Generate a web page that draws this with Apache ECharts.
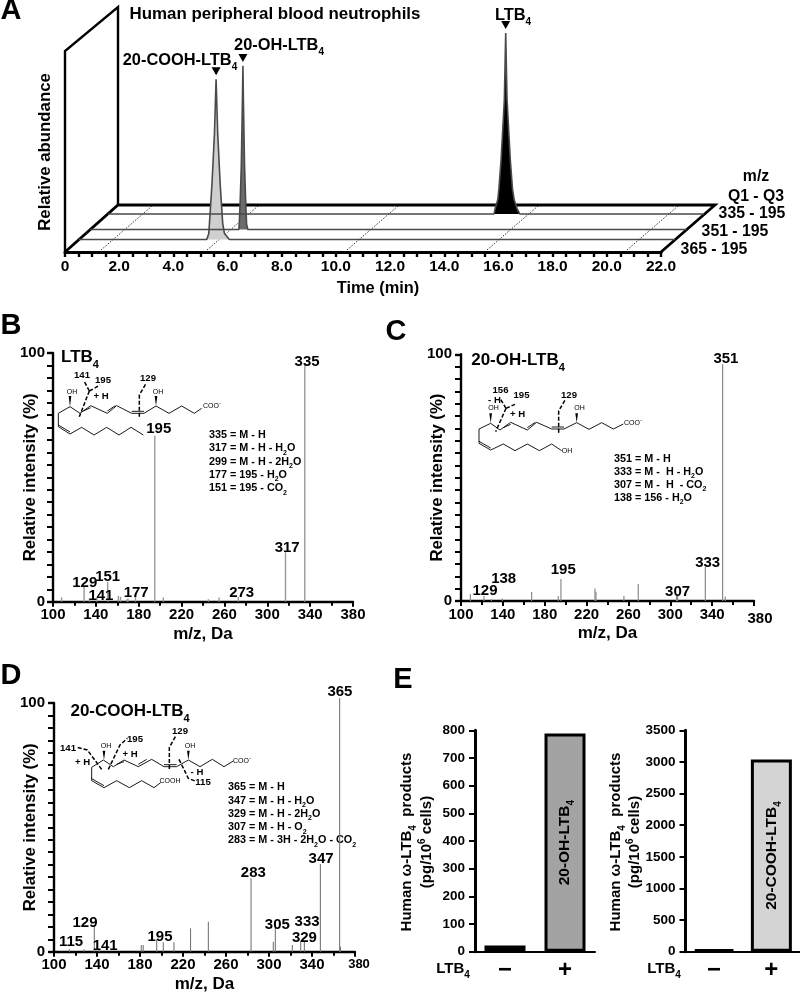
<!DOCTYPE html>
<html><head><meta charset="utf-8">
<script src="https://cdn.jsdelivr.net/npm/echarts@6/dist/echarts.min.js"></script>
<style>html,body{margin:0;padding:0;background:#fff}#c{width:800px;height:994px}</style></head>
<body><div id="c"></div>
<script>
// ---------- data ----------
const timeTicks = [0,2,4,6,8,10,12,14,16,18,20,22];
const transitions = ['335 - 195','351 - 195','365 - 195'];
const ltb4Time = [0,14.25,14.29,14.39,14.43,14.51,14.63,14.68,14.73,14.85,14.93,14.99,15.10,15.20,22];
const ltb4Abund = [0,0,3,8,14,30,63,100,63,30,14,8,3,0,0];
const ohTime = [0,5.48,5.495,5.53,5.57,5.61,5.63,5.65,5.69,5.73,5.765,5.81,22];
const ohAbund = [0,0,3,16,35,70,90.4,70,35,16,3,0,0];
const cooTime = [0,4.715,4.79,4.815,4.91,5.0,5.06,5.12,5.21,5.305,5.37,5.55,22];
const cooAbund = [0,0,3.3,8.8,31,58.6,88.5,58.6,31,8.8,3.3,0,0];

const bMz = [108,129,134,141,151,161,163,169,170,177,195,203,245,255,273,317,335];
const bInt = [1.7,6,1.3,2,8,2.3,2,1,1.3,2.3,66.7,1.7,1,1.7,2,19.9,95.3];
const bLabels = [129,141,151,177,195,273,317,335];

const cMz = [109,122,129,139.5,167.5,193,195.5,228,229,255.7,269.4,306,307,333.5,350,352.5];
const cInt = [2.8,2,0.7,1,3.6,2,8.9,5.1,3.8,2,6.9,2,2,13.9,96,1.8];
const cLabels = {122:129,129:138,195.5:195,306:307,333.5:333,350:351};

const dMz = [114.3,128,137.5,142,181.2,183,195.5,201.7,211.6,227,243.6,283.3,304,305.9,321.7,329.5,332.9,347.8,365.7,366.5];
const dInt = [1,1,10.7,1,2.7,2.7,4.7,3.8,3.8,9.4,12,29.5,4,11.4,2.7,4.4,4,35.3,102,2];
const dLabels = {114.3:115,137.5:129,142:141,195.5:195,283.3:283,305.9:305,329.5:329,332.9:333,347.8:347,365.7:365};

const bFragments = ['335 = M - H','317 = M - H - H_2_O','299 = M - H - 2H_2_O','177 = 195 - H_2_O','151 = 195 - CO_2_'];
const cFragments = ['351 = M - H','333 = M -  H - H_2_O','307 = M -  H  - CO_2_','138 = 156 - H_2_O'];
const dFragments = ['365 = M - H','347 = M - H - H_2_O','329 = M - H - 2H_2_O','307 = M - H - O_2_','283 = M - 3H - 2H_2_O - CO_2_'];

const barGroups = ['−','+'];
const ohBars = [22,788];
const cooBars = [35,3040];

// ---------- layout / style ----------
const F = '"Liberation Sans", Arial, sans-serif';
function mk(s){
  return s.split(/(_[^_]+_|\^[^^]+\^)/).filter(x=>x!=='').map(x=>{
    if(x[0]==='_') return '{s|'+x.slice(1,-1)+'}';
    if(x[0]==='^') return '{u|'+x.slice(1,-1)+'}';
    return '{a|'+x+'}';
  }).join('');
}
function rich(size,color){
  const c=color||'#000', ss=Math.round(size*.64), lh=Math.round(size*1.5);
  const base={fontWeight:'bold',fontFamily:F,fill:c,color:c};
  return {
    a:Object.assign({fontSize:size,lineHeight:lh},base),
    s:Object.assign({fontSize:ss,lineHeight:ss,verticalAlign:'bottom'},base),
    u:Object.assign({fontSize:ss,lineHeight:ss,verticalAlign:'top',padding:[2,0,0,0]},base)
  };
}
const G=[];
function T(x,y,str,size,o){
  o=o||{};
  G.push({type:'text',x,y,rotation:o.rot||0,silent:true,style:{text:mk(str),rich:rich(size),
    align:o.align||'center',verticalAlign:'middle',font:'bold '+size+'px '+F,fill:'#000'}});
}
function plain(x,y,str,size,o){
  o=o||{};
  G.push({type:'text',x,y,silent:true,style:{text:str,align:o.align||'center',verticalAlign:'middle',
    font:(o.weight||'bold')+' '+size+'px '+F,fill:o.fill||'#000'}});
}
function L(pts,w,o){
  o=o||{};
  G.push({type:'polyline',silent:true,shape:{points:pts},style:{stroke:o.c||'#000',lineWidth:w,fill:null,lineDash:o.dash||null,lineJoin:'miter'}});
}
const Z=(ox,oy,p)=>p.map(a=>[ox+a[0]/3,oy+a[1]/3]);
function wedge(ox,oy,x,y0,y1){
  G.push({type:'polygon',silent:true,shape:{points:Z(ox,oy,[[x,y0],[x-4,y1],[x+4,y1]])},style:{fill:'#000'}});
}

// Panel letters
[['A',11,11],['B',11,326],['C',396,332],['D',11,676],['E',403,680]].forEach(a=>plain(a[1],a[2],a[0],29));

// Panel A frame
L([[65,252],[65,51],[118,7],[118,205]],2.4);
L([[65,252],[118,205],[715,205],[661,252]],2.8);
[101,207,347,487,627].forEach(x=>L([[x,250],[x+51,206]],0.8,{dash:[1.5,1.5]}));
T(275,14,'Human peripheral blood neutrophils',16.9);
T(180,60,'20-COOH-LTB_4_',16.4);
T(279,45,'20-OH-LTB_4_',16.4);
T(513,15,'LTB_4_',16.4);
T(45,152,'Relative abundance',16.8,{rot:Math.PI/2});
plain(756,177,'m/z',15.8); plain(756,197,'Q1 - Q3',15.8);
plain(752,214,transitions[0],15.8); plain(735,232,transitions[1],15.8); plain(714,250,transitions[2],15.8);

// Spectra text
T(80,357,'LTB_4_',17);
T(518,360,'20-OH-LTB_4_',17);
T(130,711,'20-COOH-LTB_4_',17);
bFragments.forEach((t,i)=>T(209,435+i*13.35,t,10.8,{align:'left'}));
cFragments.forEach((t,i)=>T(614,459+i*13,t,10.8,{align:'left'}));
dFragments.forEach((t,i)=>T(228,787.3+i*13.3,t,10.8,{align:'left'}));

// Molecule sketches
function chain(ox,oy,pts,tail,db){
  L(Z(ox,oy,pts),0.9); L(Z(ox,oy,tail),0.9);
  db.forEach(s=>L(Z(ox,oy,s),0.9));
}
const D={dash:[4,2]};
// B
chain(0,310,
 [[175,310],[210,290],[240,310],[272,287],[322,310],[350,287],[395,310],[432,310],[468,288],[507,310],[545,288],[583,310],[605,295]],
 [[175,310],[175,350],[210,372],[245,352],[282,375],[320,352],[357,375],[393,352],[430,375]],
 [[[250,303],[272,293]],[[322,303],[346,287]],[[395,304],[432,304]],[[175,345],[210,366]]]);
wedge(0,310,210,290,258); wedge(0,310,468,288,258);
plain(72,392,'OH',7,{weight:'normal'}); plain(158,392,'OH',7,{weight:'normal'});
plain(212,406.5,'COO⁻',7,{weight:'normal'});
L(Z(0,310,[[268,243],[238,320]]),1.5,D); L(Z(0,310,[[268,243],[252,213]]),1.5,D); L(Z(0,310,[[268,243],[300,225]]),1.5,D);
L(Z(0,310,[[418,320],[418,255],[437,222]]),1.5,D);
plain(82,375,'141',9.6); plain(103,380,'195',9.6); plain(101,396,'+ H',9.6); plain(148,378,'129',9.6);
// C
chain(380,310,
 [[297,357],[332,340],[360,360],[392,337],[442,360],[470,337],[515,357],[552,357],[590,338],[627,358],[665,338],[700,357],[730,342]],
 [[297,357],[297,400],[332,420],[370,402],[405,422],[442,402],[478,422],[515,402],[545,422]],
 [[[370,353],[392,343]],[[442,353],[466,337]],[[515,351],[552,351]],[[297,394],[332,414]]]);
wedge(380,310,332,340,310); wedge(380,310,590,338,310);
plain(493.5,408.5,'OH',7,{weight:'normal'}); plain(579.5,408.5,'OH',7,{weight:'normal'});
plain(567,451,'OH',7,{weight:'normal'});
plain(633,423,'COO⁻',7,{weight:'normal'});
L(Z(380,310,[[378,295],[347,365]]),1.5,D); L(Z(380,310,[[378,295],[360,265]]),1.5,D); L(Z(380,310,[[378,295],[405,283]]),1.5,D);
L(Z(380,310,[[536,368],[536,303],[555,270]]),1.5,D);
plain(500.5,390.5,'156',9.6); plain(494.5,400,'- H',9.6); plain(521.5,395,'195',9.6); plain(517.5,414.5,'+ H',9.6); plain(569,395,'129',9.6);
// D
chain(0,650,
 [[275,352],[310,330],[340,350],[372,330],[415,350],[455,328],[492,350],[530,350],[565,330],[600,350],[637,328],[672,350],[700,333]],
 [[275,352],[275,392],[312,413],[350,392],[388,413],[425,392],[462,413],[482,398]],
 [[[350,343],[372,335]],[[415,343],[440,328]],[[492,344],[530,344]],[[275,386],[312,407]]]);
wedge(0,650,312,330,302); wedge(0,650,565,330,302);
plain(106,746.5,'OH',7,{weight:'normal'}); plain(190,746.5,'OH',7,{weight:'normal'});
plain(242,761,'COO⁻',7,{weight:'normal'}); plain(170,781,'COOH',7,{weight:'normal'});
L(Z(0,650,[[305,358],[262,300],[232,292]]),1.5,D); L(Z(0,650,[[325,358],[360,285],[382,265]]),1.5,D);
L(Z(0,650,[[508,357],[508,292],[527,258]]),1.5,D); L(Z(0,650,[[537,328],[565,385],[585,393]]),1.5,D);
plain(68,748.5,'141',9.6); plain(82.5,762.5,'+ H',9.6); plain(135,739,'195',9.6); plain(130,754,'+ H',9.6);
plain(180,731,'129',9.6); plain(203,782.5,'115',9.6); plain(197,772.5,'- H',9.6);

// Panel E text
T(407,842,'Human ω-LTB_4_  products',15,{rot:Math.PI/2});
T(427,842,'(pg/10^6^ cells)',15,{rot:Math.PI/2});
T(616,842,'Human ω-LTB_4_  products',15,{rot:Math.PI/2});
T(635,842,'(pg/10^6^ cells)',15,{rot:Math.PI/2});
T(453,969,'LTB_4_',15);
T(664,969,'LTB_4_',15);

// ---------- grids ----------
const grids=[],xAxes=[],yAxes=[],series=[];
function addGrid(box,x,y){
  const i=grids.length;
  grids.push(Object.assign({containLabel:false},box));
  xAxes.push(Object.assign({gridIndex:i},x));
  yAxes.push(Object.assign({gridIndex:i},y));
  return i;
}
const off={show:false};
const hiddenX={type:'value',min:0,max:22,axisLine:off,axisTick:off,axisLabel:off,splitLine:off};
const hiddenY={type:'value',min:0,max:100,axisLine:off,axisTick:off,axisLabel:off,splitLine:off};

// Panel A: one chromatogram plane per transition
function trace(left,bottomY,t,a,fill,peak){
  const g=addGrid({left,top:bottomY-181,width:596,height:181},hiddenX,hiddenY);
  series.push({type:'line',xAxisIndex:g,yAxisIndex:g,showSymbol:false,symbol:'none',clip:false,silent:true,
    data:t.map((v,i)=>[v,a[i]]),lineStyle:{color:'#4a4a4a',width:1.6},areaStyle:{color:fill,opacity:1,origin:'start'},
    markPoint:{silent:true,symbol:'triangle',symbolRotate:180,symbolSize:[9,8],symbolOffset:[0,-8],itemStyle:{color:'#000'},label:{show:false},
      data:[{coord:[peak,a[t.indexOf(peak)]]}]}});
}
trace(108,214,ltb4Time,ltb4Abund,'#000',14.68);
trace(90.4,229.5,ohTime,ohAbund,'#6b6b6b',5.63);
trace(79,239.5,cooTime,cooAbund,'#cfcfcf',5.06);
addGrid({left:65,top:71,width:596,height:181},
 {type:'value',min:0,max:22,interval:2,name:'Time (min)',nameLocation:'middle',nameGap:28,nameMoveOverlap:false,
  nameTextStyle:{fontFamily:F,fontWeight:'bold',fontSize:16.4,color:'#000',padding:[0,0,0,30]},
  axisLine:{show:true,lineStyle:{color:'#000',width:3}},
  axisTick:{show:true,length:5,lineStyle:{color:'#000',width:2.4}},
  minorTick:{show:true,splitNumber:4,length:5,lineStyle:{color:'#000',width:2.4}},
  axisLabel:{show:true,margin:7,fontFamily:F,fontWeight:'bold',fontSize:15.5,color:'#000',
    formatter:v=>v===0?'0':(timeTicks.includes(v)?v.toFixed(1):'')},
  splitLine:off},
 Object.assign({},hiddenY));

// Spectra
function spectrum(box,mz,val,labels,offsets,barColor,barW,yGap,yMargin,lastStyle){
  const g=addGrid(box,
   {type:'value',min:100,max:380,interval:40,name:'m/z, Da',nameLocation:'middle',nameGap:24,nameMoveOverlap:false,
    nameTextStyle:{fontFamily:F,fontWeight:'bold',fontSize:17,color:'#000'},
    axisLine:{show:true,lineStyle:{color:'#000',width:2.4}},
    axisTick:{show:true,length:5,lineStyle:{color:'#000',width:2}},
    minorTick:{show:true,splitNumber:2,length:4,lineStyle:{color:'#000',width:2}},
    axisLabel:{show:true,margin:6,fontFamily:F,fontWeight:'bold',fontSize:15,color:'#000',
      formatter:lastStyle?(v=>v===380?'{m|380}':''+v):undefined,
      rich:lastStyle?{m:Object.assign({fontFamily:F,fontWeight:'bold',color:'#000'},lastStyle)}:undefined},
    splitLine:off},
   {type:'value',min:0,max:100,interval:100,name:'Relative intensity (%)',nameLocation:'middle',nameGap:yGap,nameMoveOverlap:false,
    nameTextStyle:{fontFamily:F,fontWeight:'bold',fontSize:16.7,color:'#000'},
    axisLine:{show:true,lineStyle:{color:'#000',width:2.4}},
    axisTick:{show:true,length:6,lineStyle:{color:'#000',width:2.4}},
    minorTick:{show:true,splitNumber:20,length:6,lineStyle:{color:'#000',width:2}},
    axisLabel:{show:true,margin:yMargin,fontFamily:F,fontWeight:'bold',fontSize:15,color:'#000'},
    splitLine:off});
  series.push({type:'bar',xAxisIndex:g,yAxisIndex:g,barWidth:barW,clip:false,silent:true,
    itemStyle:{color:barColor},
    data:mz.map((m,i)=>{
      const name=labels(m);
      const o={value:[m,val[i]]};
      if(name!==undefined){
        const f=offsets[name]||[0,0];
        o.label={show:true,position:'top',distance:2,formatter:''+name,offset:[f[0],f[1]+2],
          fontFamily:F,fontWeight:'bold',fontSize:15,color:'#000'};
      }
      return o;
    })});
}
const bOff={129:[0.7,3.5],141:[4,7],151:[0,2.8],177:[0.7,4.5],195:[4,1],273:[3.3,3.8],317:[1.7,3],335:[2.3,4.5]};
const cOff={129:[1,2.5],138:[12.3,-13],195:[2.3,-1.8],307:[1,3.5],333:[2.3,3.5],351:[3.3,1.8]};
const dOff={115:[1.7,0],129:[-9.3,5.2],141:[6,3.8],195:[3.3,4.5],283:[2.3,2.2],305:[2,8.8],329:[3.7,4.8],333:[2.7,-12.8],347:[0.7,2.8],365:[0.3,1.8]};
spectrum({left:53,top:353,width:300,height:248.7},bMz,bInt,m=>bLabels.includes(m)?m:undefined,bOff,'#9a9a9a',1.4,14,8);
spectrum({left:461,top:354.3,width:293,height:246.7},cMz,cInt,m=>cLabels[m],cOff,'#8a8a8a',1.2,15,9,{fontSize:15,padding:[4,0,0,12]});
spectrum({left:54,top:703,width:301,height:248.7},dMz,dInt,m=>dLabels[m],dOff,'#777',1.1,15,9,{fontSize:13,padding:[0,0,3,8]});

// Panel E
function bars(box,max,interval,vals,fill,label,lsize){
  const g=addGrid(box,
   {type:'category',data:barGroups,axisLine:{show:true,lineStyle:{color:'#000',width:2}},axisTick:off,
    axisLabel:{show:true,margin:7,fontFamily:F,fontWeight:'bold',fontSize:24,color:'#000',lineHeight:24},splitLine:off},
   {type:'value',min:0,max,interval,axisLine:{show:true,lineStyle:{color:'#000',width:3}},
    axisTick:{show:true,length:6,lineStyle:{color:'#000',width:2}},
    axisLabel:{show:true,margin:10,fontFamily:F,fontWeight:'bold',fontSize:13.5,color:'#000',formatter:v=>''+v},splitLine:off});
  series.push({type:'bar',xAxisIndex:g,yAxisIndex:g,barWidth:41,silent:true,
    data:[{value:vals[0],itemStyle:{color:'#000',borderColor:'#000',borderWidth:3}},
      {value:vals[1],itemStyle:{color:fill,borderColor:'#000',borderWidth:3},
       label:{show:true,position:'inside',rotate:90,formatter:mk(label),rich:rich(lsize)}}]});
}
bars({left:475,top:730.3,width:120,height:221.4},800,100,ohBars,'#a3a3a3','20-OH-LTB_4_',15.5);
bars({left:685.5,top:730.3,width:116,height:221.4},3500,500,cooBars,'#d4d4d4','20-COOH-LTB_4_',15.5);

const chart=echarts.init(document.getElementById('c'),null,{renderer:'canvas',width:800,height:994});
chart.setOption({animation:false,backgroundColor:'#fff',grid:grids,xAxis:xAxes,yAxis:yAxes,series,graphic:{elements:G}});
</script></body></html>
